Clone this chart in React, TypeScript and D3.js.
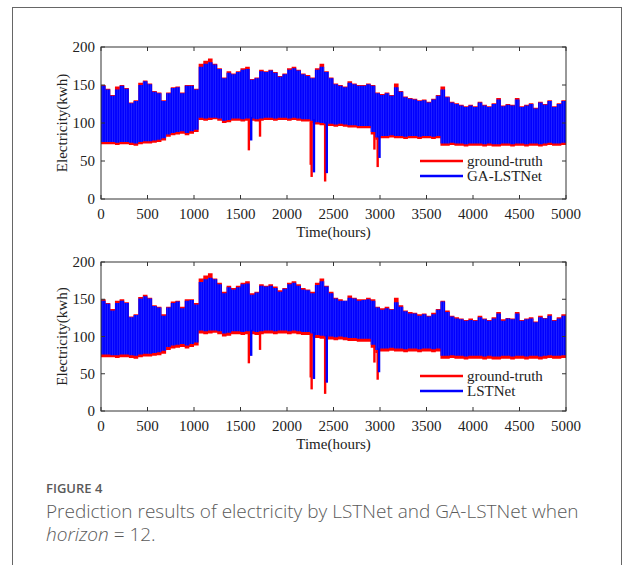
import React from 'react';
import * as d3 from 'd3';

// 50-hour bins, 0..5000 hours. daily swing drawn as a band (max / min inside each bin)
const BIN = 50;

const truthHi = [150,145,137,148,150,146,127,130,153,156,152,142,140,130,140,147,148,140,150,150,
  145,178,182,185,178,172,160,168,165,168,172,174,158,160,170,168,170,167,162,165,
  172,174,170,165,163,160,172,178,168,160,152,150,148,155,152,150,150,152,150,140,
  138,140,137,152,142,135,133,132,130,131,128,132,137,148,135,128,126,124,122,124,
  122,128,124,122,126,133,123,125,124,133,122,124,126,120,128,125,130,122,126,130];

const truthLo = [72,72,72,71,72,72,71,70,72,73,73,74,75,77,82,84,85,86,84,86,
  88,104,103,104,105,103,100,101,103,103,102,103,103,102,103,104,104,103,104,104,
  103,104,103,102,102,100,98,97,96,96,95,96,95,94,94,93,93,93,85,78,
  80,80,81,80,80,79,80,80,79,80,80,79,80,70,70,71,70,70,69,70,
  70,70,69,70,69,69,70,70,69,70,70,69,70,70,69,70,71,70,70,71];

const gaHi = [149,144,136,144,149,145,126,129,150,155,151,141,139,129,139,146,147,139,149,149,
  144,174,178,180,177,171,159,166,164,167,170,171,157,159,168,167,169,166,161,164,
  170,172,169,164,162,159,170,174,167,159,151,149,147,153,151,149,149,151,149,139,
  137,139,136,147,141,134,132,131,129,130,127,131,136,144,134,127,125,123,121,123,
  121,127,123,121,125,131,122,124,123,131,121,123,125,119,127,124,129,121,125,129];

const gaLo = [75,75,75,74,75,75,74,73,75,76,76,77,78,80,85,87,88,89,87,89,
  91,107,106,107,107,106,103,104,106,106,105,106,106,105,106,107,107,106,107,107,
  106,107,106,105,105,103,101,100,99,99,98,99,98,97,97,96,96,96,88,81,
  83,83,84,83,83,82,83,83,82,83,83,82,83,73,73,74,73,73,72,73,
  73,73,72,73,72,72,73,73,72,73,73,72,73,73,72,73,74,73,73,74];

const lsHi = [148,144,135,145,148,145,126,129,151,154,151,141,139,128,139,145,147,138,148,149,
  143,173,177,179,177,170,158,166,163,166,170,171,156,159,168,167,168,165,160,164,
  170,172,168,163,162,158,169,174,167,158,151,148,148,152,151,148,149,150,148,139,
  136,138,136,146,140,134,131,131,128,130,127,130,136,147,133,127,124,123,121,122,
  121,126,123,121,124,131,121,124,123,131,121,123,124,119,126,124,128,121,124,128];

const lsLo = [76,76,75,75,76,76,75,74,76,77,77,78,79,81,86,88,89,90,88,90,
  92,108,107,108,108,107,104,105,107,107,106,107,107,106,107,108,108,107,108,108,
  107,108,107,106,106,104,102,101,100,100,99,100,99,98,98,97,97,97,89,82,
  84,84,85,84,84,83,84,84,83,84,84,83,84,74,74,75,74,74,73,74,
  74,74,73,74,73,73,74,74,73,74,74,73,74,74,73,74,75,74,74,75];

// sudden drops: [hour, value]
const truthSpikes = [[1590, 64], [1710, 82], [2255, 45], [2265, 29], [2410, 23], [2940, 65], [2975, 42]];
const gaSpikes = [[1615, 77], [2290, 35], [2428, 34], [2995, 54]];
const lsSpikes = [[1615, 74], [2290, 43], [2428, 38], [2990, 52]];

const xTicks = [0, 500, 1000, 1500, 2000, 2500, 3000, 3500, 4000, 4500, 5000];
const yTicks = [0, 50, 100, 150, 200];

const panels = [
  { top: 47, bottom: 199, hi: gaHi, lo: gaLo, spikes: gaSpikes, name: 'GA-LSTNet' },
  { top: 262, bottom: 411, hi: lsHi, lo: lsLo, spikes: lsSpikes, name: 'LSTNet' },
];

const RED = '#ff0000';
const BLUE = '#0000ff';
const serif = '"Liberation Serif", "Times New Roman", serif';

const x = d3.scaleLinear().domain([0, 5000]).range([101, 566]);

const Band = ({ hi, lo, y, color, fill }) => {
  // repeat last bin so the step reaches 5000
  const pts = hi.map((h, i) => ({ t: i * BIN, h, l: lo[i] }));
  pts.push({ t: 5000, h: hi[hi.length - 1], l: lo[lo.length - 1] });
  const area = d3.area()
    .x(d => x(d.t))
    .y0(d => y(d.l))
    .y1(d => y(d.h))
    .curve(d3.curveStepAfter);
  return <path d={area(pts)} fill={fill || color} />;
};

const Spikes = ({ spikes, lo, y, color }) => (
  <g>
    {spikes.map(([t, v]) => {
      const base = lo[Math.min(lo.length - 1, Math.floor(t / BIN))];
      return <line key={t} x1={x(t)} x2={x(t)} y1={y(base + 2)} y2={y(v)} stroke={color} strokeWidth={2.4} />;
    })}
  </g>
);

const Panel = ({ p, idx }) => {
  const y = d3.scaleLinear().domain([0, 200]).range([p.bottom, p.top]);
  const clipId = 'clip' + idx;
  const x0 = x.range()[0], x1 = x.range()[1];
  const tk = 4;
  return (
    <g>
      <defs>
        <clipPath id={clipId}>
          <rect x={x0} y={p.top} width={x1 - x0} height={p.bottom - p.top} />
        </clipPath>
      </defs>
      <g clipPath={`url(#${clipId})`}>
        <Band hi={truthHi} lo={truthLo} y={y} color={RED} />
        <Spikes spikes={truthSpikes} lo={truthLo} y={y} color={RED} />
        <Band hi={p.hi} lo={p.lo} y={y} color={BLUE} fill="url(#stripes)" />
        <Spikes spikes={p.spikes} lo={p.lo} y={y} color={BLUE} />
      </g>
      <rect x={x0} y={p.top} width={x1 - x0} height={p.bottom - p.top} fill="none" stroke="#333" strokeWidth={1} />
      {xTicks.map(t => (
        <g key={'x' + t}>
          <line x1={x(t)} x2={x(t)} y1={p.bottom} y2={p.bottom - tk} stroke="#333" />
          <line x1={x(t)} x2={x(t)} y1={p.top} y2={p.top + tk} stroke="#333" />
          <text x={x(t)} y={p.bottom + 20} textAnchor="middle" fontFamily={serif} fontSize={15} fill="#222">{t}</text>
        </g>
      ))}
      {yTicks.map(t => (
        <g key={'y' + t}>
          <line x1={x0} x2={x0 + tk} y1={y(t)} y2={y(t)} stroke="#333" />
          <line x1={x1} x2={x1 - tk} y1={y(t)} y2={y(t)} stroke="#333" />
          <text x={x0 - 6} y={y(t) + 5} textAnchor="end" fontFamily={serif} fontSize={15} fill="#222">{t}</text>
        </g>
      ))}
      <text x={(x0 + x1) / 2} y={p.bottom + 38} textAnchor="middle" fontFamily={serif} fontSize={15} fill="#222">Time(hours)</text>
      <text transform={`translate(67,${(p.top + p.bottom) / 2}) rotate(-90)`} textAnchor="middle" fontFamily={serif} fontSize={15} fill="#222">Electricity(kwh)</text>
      {/* legend */}
      <line x1={420} x2={463} y1={p.top + 114} y2={p.top + 114} stroke={RED} strokeWidth={2.5} />
      <text x={467} y={p.top + 118.5} fontFamily={serif} fontSize={15} fill="#222">ground-truth</text>
      <line x1={420} x2={463} y1={p.top + 129} y2={p.top + 129} stroke={BLUE} strokeWidth={2.5} />
      <text x={467} y={p.top + 133.5} fontFamily={serif} fontSize={15} fill="#222">{p.name}</text>
    </g>
  );
};

export default function App() {
  const capFont = '"Open Sans", Lato, sans-serif';
  return (
    <svg width={625} height={565} style={{ position: 'absolute', left: 0, top: 0, background: '#fff' }}>
      <defs>
        {/* daily ups and downs show as faint vertical striping in the blue */}
        <pattern id="stripes" width={2.4} height={10} patternUnits="userSpaceOnUse">
          <rect width={2.4} height={10} fill={BLUE} />
          <rect x={1.7} width={0.5} height={10} fill="#3a3aff" />
        </pattern>
      </defs>
      <rect x={12.5} y={7.5} width={609} height={600} fill="none" stroke="#666" strokeWidth={1} />
      {panels.map((p, i) => <Panel key={i} p={p} idx={i} />)}
      <text x={46} y={493} fontFamily={capFont} fontSize={13} fontWeight={600} fill="#5a5a5a">FIGURE 4</text>
      <text x={46} y={518} fontFamily={capFont} fontSize={19} fontWeight={300} fill="#5a5a5a">
        Prediction results of electricity by LSTNet and GA-LSTNet when
      </text>
      <text x={46} y={541} fontFamily={capFont} fontSize={19} fontWeight={300} fill="#5a5a5a">
        <tspan fontStyle="italic">horizon</tspan> = 12.
      </text>
    </svg>
  );
}
